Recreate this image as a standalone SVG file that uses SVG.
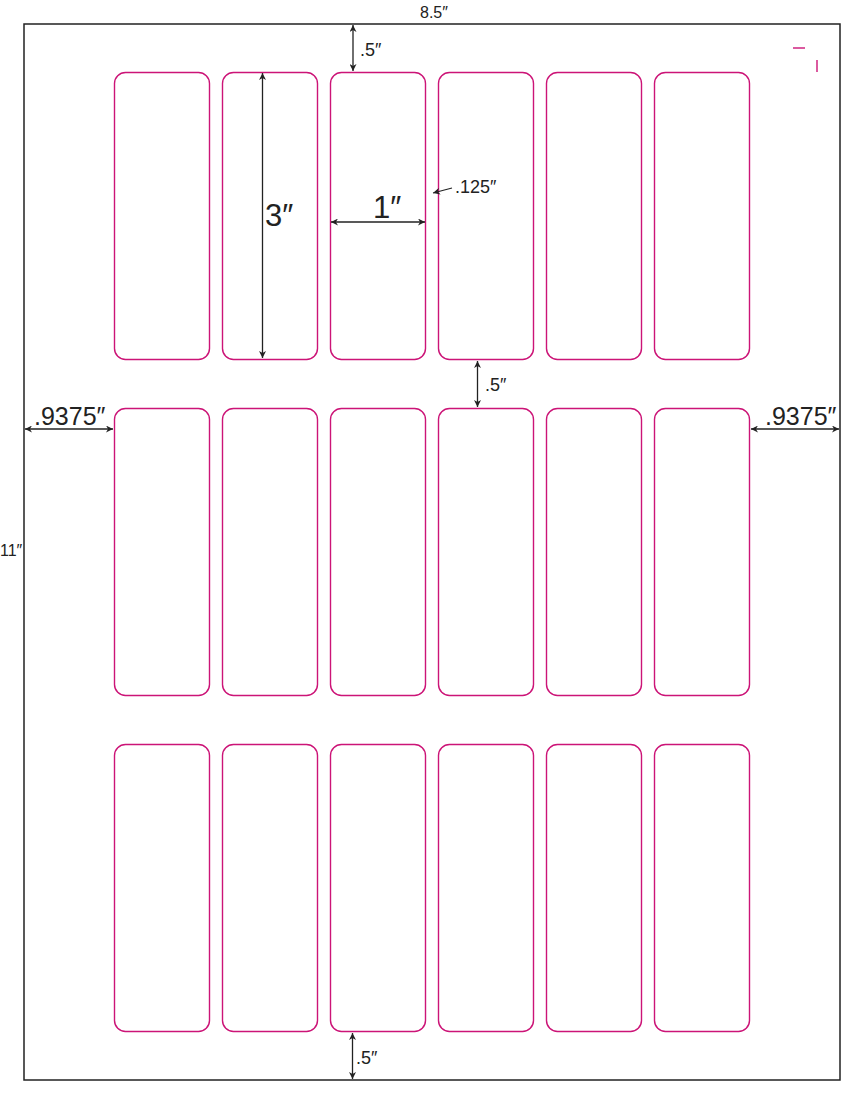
<svg xmlns="http://www.w3.org/2000/svg" width="864" height="1104" viewBox="0 0 864 1104">
<defs>
<marker id="ah" viewBox="0 0 10 10" refX="10" refY="5" markerWidth="7" markerHeight="7" orient="auto-start-reverse" markerUnits="userSpaceOnUse">
<path d="M0,0 L10,5 L0,10 L3,5 z" fill="#222"/>
</marker>
</defs>
<style>
.pg{fill:#fff;stroke:#222;stroke-width:1.5}
.lb{fill:none;stroke:#cc1477;stroke-width:1.4}
.dim{stroke:#222;stroke-width:1.3;fill:none;marker-start:url(#ah);marker-end:url(#ah)}
.lead{stroke:#222;stroke-width:1.2;fill:none;marker-end:url(#ah)}
.crop{stroke:#cc1477;stroke-width:1.4}
text{font-family:"Liberation Sans","DejaVu Sans",sans-serif;fill:#222}
.s{font-size:16px}
.m{font-size:18px}
.l{font-size:25px}
.xl{font-size:31px}
</style>
<rect id="page" class="pg" x="24" y="24" width="816" height="1056"/>
<g id="labels">
<g id="r1">
<rect id="l1" class="lb" x="114.5" y="72.5" width="95" height="287" rx="11"/>
<rect id="l2" class="lb" x="222.5" y="72.5" width="95" height="287" rx="11"/>
<rect id="l3" class="lb" x="330.5" y="72.5" width="95" height="287" rx="11"/>
<rect id="l4" class="lb" x="438.5" y="72.5" width="95" height="287" rx="11"/>
<rect id="l5" class="lb" x="546.5" y="72.5" width="95" height="287" rx="11"/>
<rect id="l6" class="lb" x="654.5" y="72.5" width="95" height="287" rx="11"/>
</g>
<g id="r2">
<rect id="l7" class="lb" x="114.5" y="408.5" width="95" height="287" rx="11"/>
<rect id="l8" class="lb" x="222.5" y="408.5" width="95" height="287" rx="11"/>
<rect id="l9" class="lb" x="330.5" y="408.5" width="95" height="287" rx="11"/>
<rect id="l10" class="lb" x="438.5" y="408.5" width="95" height="287" rx="11"/>
<rect id="l11" class="lb" x="546.5" y="408.5" width="95" height="287" rx="11"/>
<rect id="l12" class="lb" x="654.5" y="408.5" width="95" height="287" rx="11"/>
</g>
<g id="r3">
<rect id="l13" class="lb" x="114.5" y="744.5" width="95" height="287" rx="11"/>
<rect id="l14" class="lb" x="222.5" y="744.5" width="95" height="287" rx="11"/>
<rect id="l15" class="lb" x="330.5" y="744.5" width="95" height="287" rx="11"/>
<rect id="l16" class="lb" x="438.5" y="744.5" width="95" height="287" rx="11"/>
<rect id="l17" class="lb" x="546.5" y="744.5" width="95" height="287" rx="11"/>
<rect id="l18" class="lb" x="654.5" y="744.5" width="95" height="287" rx="11"/>
</g>
</g>
<g id="crop">
<line class="crop" x1="793" y1="48" x2="805" y2="48"/>
<line class="crop" x1="817" y1="60" x2="817" y2="72"/>
</g>
<g id="connectors">
<line class="dim" x1="353" y1="25" x2="353" y2="71"/>
<line class="dim" x1="262.5" y1="73" x2="262.5" y2="358"/>
<line class="dim" x1="331" y1="222" x2="425" y2="222"/>
<line class="lead" x1="452" y1="188" x2="433" y2="193"/>
<line class="dim" x1="477.5" y1="361" x2="477.5" y2="407"/>
<line class="dim" x1="25" y1="429" x2="113" y2="429"/>
<line class="dim" x1="751" y1="429" x2="839" y2="429"/>
<line class="dim" x1="352.5" y1="1033" x2="352.5" y2="1079"/>
</g>
<g id="dimtext">
<text class="s" x="420" y="18">8.5″</text>
<text class="s" x="0" y="556">11″</text>
<text class="m" x="360" y="56">.5″</text>
<text class="xl" x="265" y="226">3″</text>
<text class="xl" x="373" y="218">1″</text>
<text class="m" x="455" y="193">.125″</text>
<text class="m" x="485" y="391">.5″</text>
<text class="l" x="34" y="425">.9375″</text>
<text class="l" x="765" y="425">.9375″</text>
<text class="m" x="356" y="1064">.5″</text>
</g>
</svg>
